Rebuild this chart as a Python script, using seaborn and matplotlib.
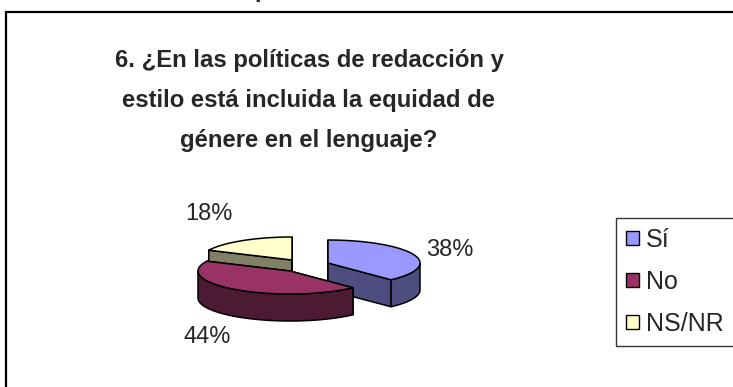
import numpy as np
import matplotlib
matplotlib.use("Agg")
import matplotlib.pyplot as plt
from matplotlib.patches import Polygon, Rectangle, Patch
import seaborn as sns

# ---- data ----
categories = ["Sí", "No", "NS/NR"]
values = [38, 44, 18]
title_lines = ["6. ¿En las políticas de redacción y",
               "estilo está incluida la equidad de",
               "génere en el lenguaje?"]

# ---- style / layout ----
top_colors = ["#9999FF", "#993366", "#FFFFCC"]
side_colors = ["#4D4D80", "#4D1A33", "#808066"]
base_center = (292.0, 260.0)
slice_offsets = [(36.0, 3.0), (-2.0, 11.0), (0.0, 0.0)]   # explosion (px)
rx, ry, depth = 92.0, 23.0, 27.0
label_pos = [(450, 250), (207, 337), (209, 214)]
draw_order = [2, 0, 1]

sns.set_style("white")
plt.rcParams["font.family"] = ["Liberation Sans", "DejaVu Sans"]

W, H = 733, 387
fig = plt.figure(figsize=(W / 100, H / 100), dpi=100)
ax = fig.add_axes([0, 0, 1, 1])
ax.set_xlim(0, W)
ax.set_ylim(H, 0)
ax.axis("off")

# outer chart frame
ax.add_patch(Rectangle((6, 12), 800, 500, facecolor="white", edgecolor="black", lw=1.6, zorder=0))

# fragment of text above the frame (cut off in the original too)
ax.text(262, -3.5, "p", fontsize=17, fontweight="bold", ha="center", va="baseline")

# title
for i, line in enumerate(title_lines):
    ax.text(309, 61 + 40 * i, line, fontsize=17.2, fontweight="bold", ha="center", va="center")

# slice angles (clockwise from 12 o'clock)
total = float(sum(values))
starts, ends = [], []
acc = 0.0
for v in values:
    s = 90.0 - 360.0 * acc / total
    e = s - 360.0 * v / total
    starts.append(s)
    ends.append(e)
    acc += v

def pt(c, th):
    t = np.deg2rad(th)
    return np.array([c[0] + rx * np.cos(t), c[1] - ry * np.sin(t)])

def arc(c, a, b, n=80):
    th = np.linspace(a, b, n)
    return np.array([pt(c, t) for t in th])

z = 2
for i in draw_order:
    c = (base_center[0] + slice_offsets[i][0], base_center[1] + slice_offsets[i][1])
    lo, hi = ends[i], starts[i]
    cb = (c[0], c[1] + depth)
    # radial cut faces
    for th in (hi, lo):
        p = pt(c, th)
        quad = [c, p, p + [0, depth], cb]
        ax.add_patch(Polygon(quad, closed=True, facecolor=side_colors[i], edgecolor="black", lw=1.1, zorder=z))
        z += 1
    # front outer side
    for k in (-2, -1, 0, 1):
        a = max(lo, -180 + 360 * k)
        b = min(hi, 0 + 360 * k)
        if b > a:
            top = arc(c, a, b)
            bot = top[::-1] + [0, depth]
            ax.add_patch(Polygon(np.vstack([top, bot]), closed=True, facecolor=side_colors[i],
                                 edgecolor="black", lw=1.1, zorder=z))
            z += 1
    # top face
    poly = np.vstack([[c], arc(c, lo, hi)])
    ax.add_patch(Polygon(poly, closed=True, facecolor=top_colors[i], edgecolor="black", lw=1.1, zorder=z))
    z += 1

# percentage labels
for i, v in enumerate(values):
    ax.text(label_pos[i][0], label_pos[i][1], f"{v}%", fontsize=17, ha="center", va="center", zorder=50)

# legend
handles = [Patch(facecolor=top_colors[i], edgecolor="black", lw=1.0, label=categories[i]) for i in range(3)]
leg = ax.legend(handles=handles, loc="upper left", bbox_to_anchor=(616 / W, 1 - 218 / H),
                bbox_transform=fig.transFigure, frameon=True, fancybox=False, shadow=False,
                fontsize=18, handlelength=0.5, handleheight=0.5, handletextpad=0.3,
                labelspacing=0.72, borderpad=0.4, borderaxespad=0)
leg.get_frame().set_edgecolor("black")
leg.get_frame().set_linewidth(1.0)
leg.set_zorder(60)

fig.savefig("out.png", dpi=100)
